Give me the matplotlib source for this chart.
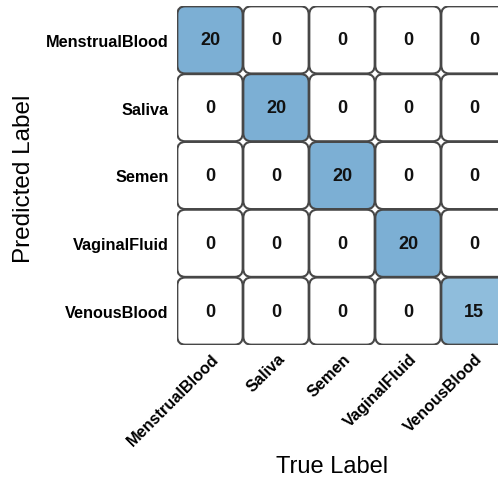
import numpy as np
import matplotlib
matplotlib.use("Agg")
import matplotlib.pyplot as plt
from matplotlib.patches import FancyBboxPatch
from matplotlib.colors import LinearSegmentedColormap, Normalize
from matplotlib.transforms import ScaledTranslation

classes = ["MenstrualBlood", "Saliva", "Semen", "VaginalFluid", "VenousBlood"]
counts = np.array([
    [20, 0, 0, 0, 0],
    [0, 20, 0, 0, 0],
    [0, 0, 20, 0, 0],
    [0, 0, 0, 20, 0],
    [0, 0, 0, 0, 15],
])

plt.rcParams["font.family"] = ["Liberation Sans", "DejaVu Sans"]

W, H = 498, 481
fig = plt.figure(figsize=(W / 100, H / 100), dpi=100)
ax = fig.add_axes([177 / W, 1 - 346 / H, 330 / W, 339 / H])

cmap = LinearSegmentedColormap.from_list(
    "tiles", [(0, "#ffffff"), (0.75, "#8fbddc"), (1, "#7cafd4")])
norm = Normalize(vmin=0, vmax=counts.max())

n = len(classes)
for r in range(n):
    for c in range(n):
        v = counts[r, c]
        box = FancyBboxPatch((c + 0.005, r + 0.005), 0.99, 0.99,
                             boxstyle="round,pad=0,rounding_size=0.12",
                             facecolor=cmap(norm(v)), edgecolor="#474747",
                             linewidth=1.5)
        ax.add_patch(box)
        ax.text(c + 0.5, r + 0.5, str(v), ha="center", va="center",
                fontsize=13, fontweight="bold", color="#111111")

ax.set_xlim(0, n)
ax.set_ylim(n, 0)
for s in ax.spines.values():
    s.set_visible(False)
ax.tick_params(length=0)

ax.set_yticks(np.arange(n) + 0.5)
ax.set_yticklabels(classes, fontsize=11.7, fontweight="bold")
ax.tick_params(axis="y", pad=6)

ax.set_xticks(np.arange(n) + 0.5)
ax.set_xticklabels(classes, fontsize=11.7, fontweight="bold",
                   rotation=45, ha="right", va="top", rotation_mode="anchor")
ax.tick_params(axis="x", pad=4)
shift = ScaledTranslation(1 / 100, 0, fig.dpi_scale_trans)
for lbl in ax.get_xticklabels():
    lbl.set_transform(lbl.get_transform() + shift)

fig.text(332 / W, 1 - 467 / H, "True Label", fontsize=17, ha="center", va="center")
fig.text(24 / W, 1 - 179 / H, "Predicted Label", fontsize=17.5, ha="center",
         va="center", rotation=90)

fig.savefig("out.png", dpi=100, facecolor="white")
